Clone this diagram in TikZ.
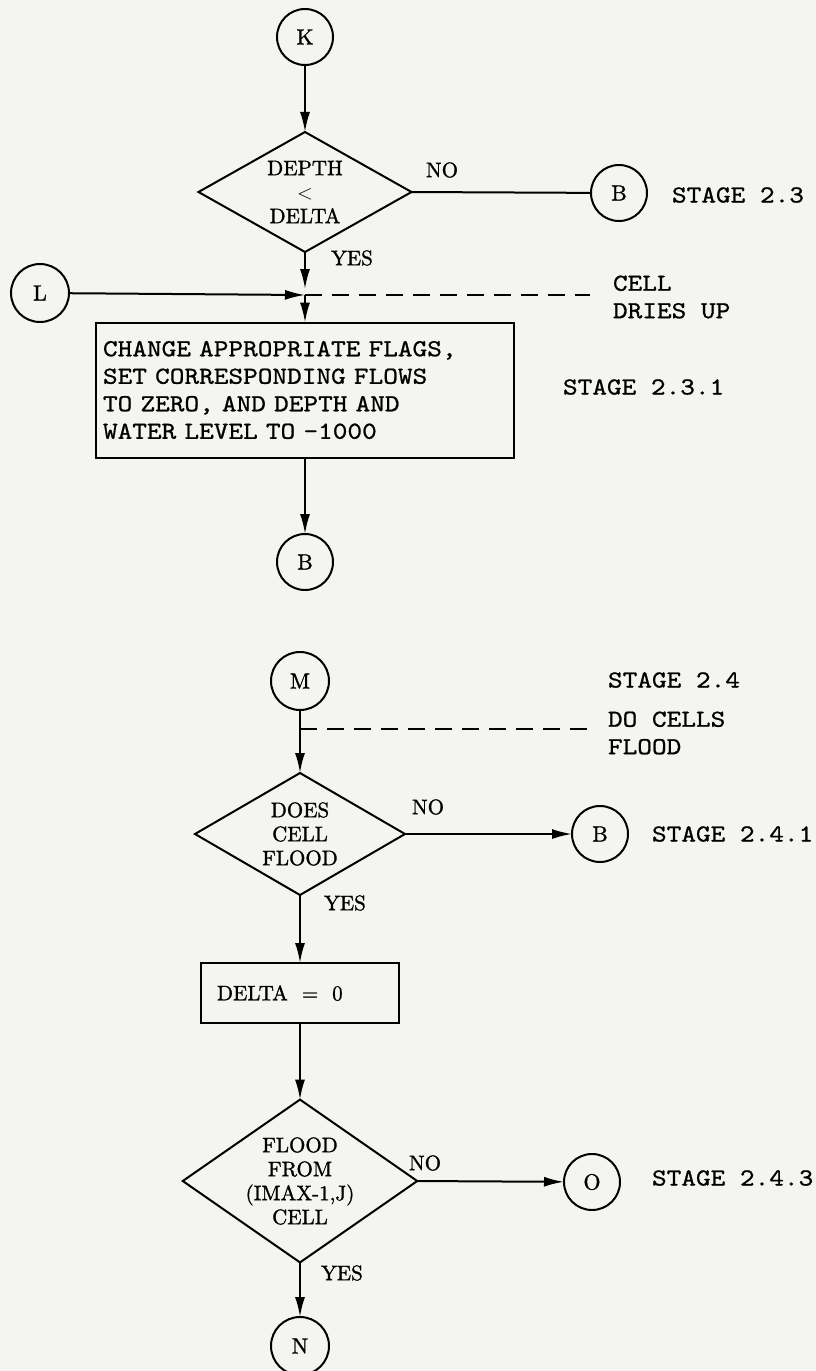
\documentclass[tikz,border=0pt]{standalone}
\usepackage{fontspec}
\newfontfamily\tw[FakeStretch=1.14,FakeBold=0.8]{lmmono10-regular.otf}
\newfontfamily\rmf[FakeBold=1.2]{lmroman10-regular.otf}
\usetikzlibrary{arrows.meta,shapes.geometric}
\definecolor{paper}{RGB}{244,244,241}
\begin{document}
\begin{tikzpicture}[x=1pt,y=-1pt,
  every node/.style={inner sep=0pt, outer sep=0pt},
  rmfont/.style={font=\rmf\fontsize{21}{24}\selectfont},
  ttfont/.style={font=\tw\fontsize{24.5}{27.5}\selectfont},
  conn/.style={circle, draw, line width=2pt, minimum size=56pt, font=\rmf\fontsize{22}{24}\selectfont},
  dec/.style={diamond, draw, line width=2pt, align=center, rmfont},
  procbox/.style={rectangle, draw, line width=2pt},
  lbl/.style={rmfont},
  tt/.style={ttfont, align=left, anchor=west},
  flow/.style={line width=2pt, -{Latex[length=20pt,width=10pt]}},
  plain/.style={line width=2pt},
  note/.style={line width=2pt, dash pattern=on 17pt off 10pt}
]
\fill[paper] (0,0) rectangle (816,1371);
\useasboundingbox (0,0) rectangle (816,1371);

% ---- upper part ----
\node[conn] (K) at (305,37) {K};
\node[dec, aspect=1.78, minimum width=213pt, minimum height=120pt] (D1) at (305,192) {DEPTH\\$<$\\DELTA};
\node[lbl] (no1) at (442,170) {NO};
\node[conn] (B1) at (619,193) {B};
\node[tt] (s23) at (672,195) {STAGE 2.3};
\node[lbl] (yes1) at (352,258) {YES};
\node[conn, minimum size=58pt] (L) at (40,293) {L};
\coordinate (J) at (305,295);
\coordinate (dryend) at (590,295);
\node[tt] (dry) at (613,297) {CELL\\DRIES UP};
\node[procbox, ttfont, minimum width=418pt, minimum height=135pt, text width=404pt, align=left] (P1) at (305,390)
  {CHANGE APPROPRIATE FLAGS,\\SET CORRESPONDING FLOWS\\TO ZERO, AND DEPTH AND\\WATER LEVEL TO -1000};
\node[tt] (s231) at (563,387) {STAGE 2.3.1};
\node[conn] (B2) at (305,562) {B};

\draw[flow] (K) -- (D1);
\draw[plain] (D1.east) -- (B1);
\draw[flow, shorten >=6pt] (D1.south) -- (J);
\draw[flow] (L) -- (J);
\draw[flow] (J) -- (P1.north);
\draw[note] (J) -- (dryend);
\draw[flow] (P1) -- (B2);

% ---- lower part ----
\node[conn, minimum size=58pt] (M) at (300,681) {M};
\node[tt] (s24) at (608,680) {STAGE 2.4};
\coordinate (floodtick) at (300,729);
\coordinate (floodend) at (590,729);
\node[tt] (flood) at (608,733) {DO CELLS\\FLOOD};
\node[dec, aspect=1.72, minimum width=210pt, minimum height=122pt] (D2) at (300,834) {DOES\\CELL\\FLOOD};
\node[lbl] (no2) at (428,807) {NO};
\node[conn] (B3) at (600,834) {B};
\node[tt] (s241) at (652,834) {STAGE 2.4.1};
\node[lbl] (yes2) at (345,903) {YES};
\node[procbox, rmfont, minimum width=198pt, minimum height=60pt, text width=166pt, align=left] (P2) at (300,993) {DELTA~~=~~0};
\node[dec, aspect=1.44, minimum width=234pt, minimum height=162pt] (D3) at (300,1181) {FLOOD\\FROM\\(IMAX-1,J)\\CELL};
\node[lbl] (no3) at (425,1163) {NO};
\node[conn] (O) at (592,1182) {O};
\node[tt] (s243) at (652,1178) {STAGE 2.4.3};
\node[lbl] (yes3) at (342,1273) {YES};
\node[conn, minimum size=58pt] (N) at (300,1346) {N};

\draw[flow] (M) -- (D2);
\draw[note] (floodtick) -- (floodend);
\draw[flow] (D2.east) -- (B3);
\draw[flow] (D2) -- (P2);
\draw[flow] (P2) -- (D3);
\draw[flow] (D3.east) -- (O);
\draw[flow] (D3) -- (N);
\end{tikzpicture}
\end{document}
